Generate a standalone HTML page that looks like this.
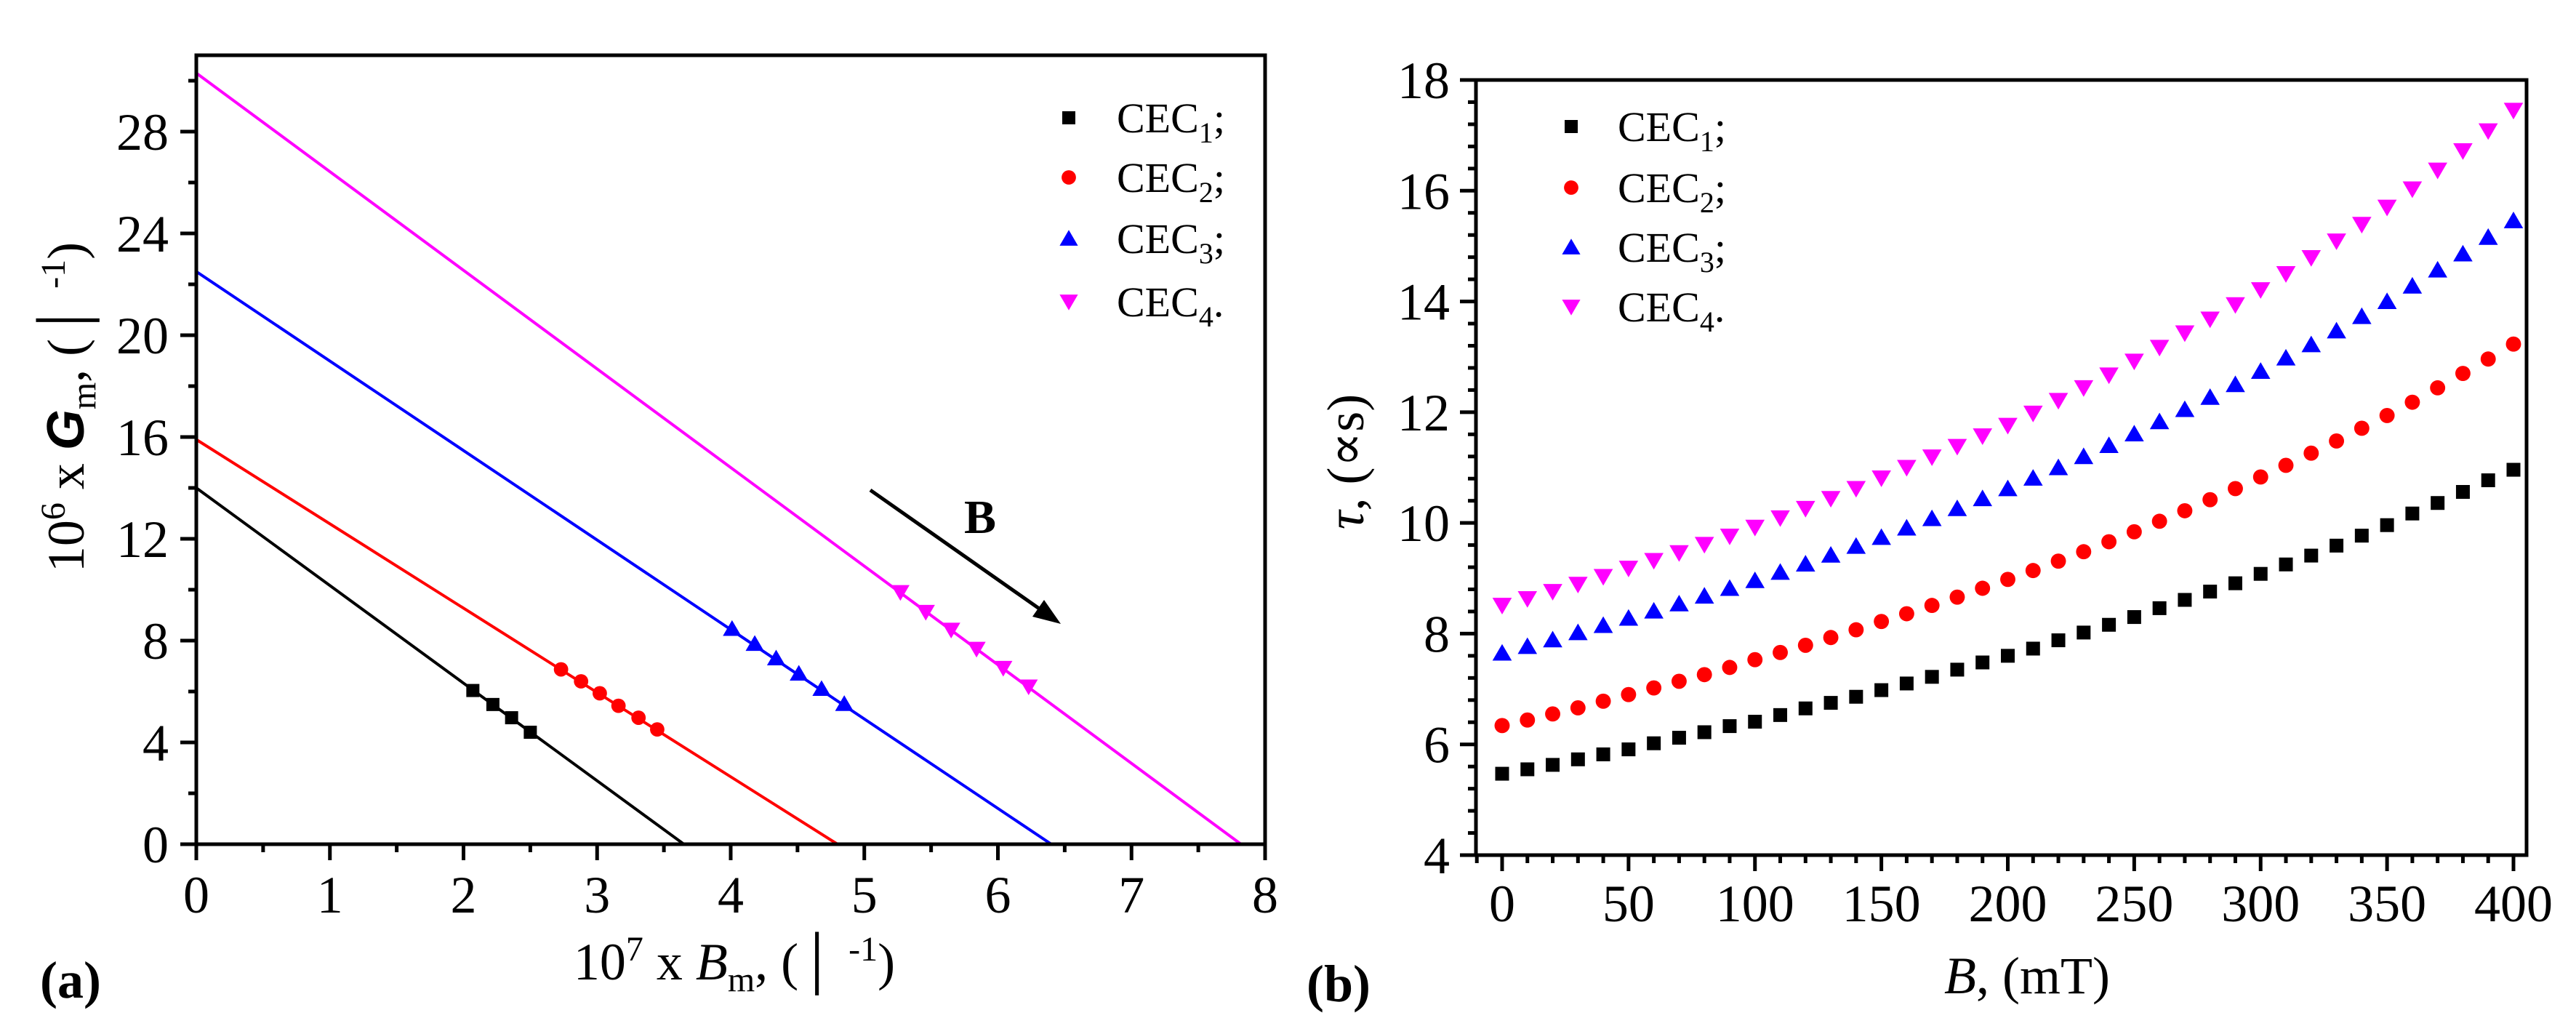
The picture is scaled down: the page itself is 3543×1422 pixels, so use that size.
<!DOCTYPE html>
<html><head><meta charset="utf-8"><style>
html,body{margin:0;padding:0;background:#fff}
svg{display:block}
text{font-family:"Liberation Serif","DejaVu Serif",serif;fill:#000}
</style></head><body>
<svg id="fig" width="3543" height="1422" viewBox="0 0 3543 1422" xmlns="http://www.w3.org/2000/svg">
<g id="pa"></g>
<g id="pb"></g>
</svg>
<script>
// Panel (a) data
const aLineIntercepts = [14.0, 15.9, 22.5, 30.3];
const aLineXZeros = [3.65, 4.80, 6.40, 7.82];
const aX1 = [2.07, 2.22, 2.36, 2.50];
const aY1 = [6.04, 5.49, 4.97, 4.40];
const aX2 = [2.73, 2.88, 3.02, 3.16, 3.31, 3.45];
const aY2 = [6.87, 6.40, 5.93, 5.44, 4.97, 4.51];
const aX3 = [4.01, 4.18, 4.34, 4.51, 4.68, 4.85];
const aY3 = [8.47, 7.88, 7.31, 6.71, 6.11, 5.52];
const aX4 = [5.27, 5.46, 5.65, 5.84, 6.04, 6.23];
const aY4 = [9.90, 9.12, 8.42, 7.67, 6.92, 6.19];
const aXTicks = [0,1,2,3,4,5,6,7,8];
const aYTicks = [0,4,8,12,16,20,24,28];
// Panel (b) data
const bField = [0,10,20,30,40,50,60,70,80,90,100,110,120,130,140,150,160,170,180,190,200,210,220,230,240,250,260,270,280,290,300,310,320,330,340,350,360,370,380,390,400];
const bCEC1 = [5.47,5.55,5.63,5.73,5.82,5.91,6.02,6.12,6.22,6.33,6.41,6.53,6.65,6.75,6.86,6.98,7.10,7.22,7.35,7.48,7.60,7.73,7.88,8.02,8.16,8.30,8.46,8.61,8.76,8.91,9.08,9.25,9.41,9.59,9.77,9.96,10.17,10.36,10.56,10.77,10.96];
const bCEC2 = [6.34,6.44,6.55,6.66,6.78,6.90,7.02,7.14,7.26,7.39,7.53,7.66,7.79,7.93,8.07,8.22,8.36,8.51,8.66,8.82,8.98,9.14,9.31,9.48,9.66,9.84,10.03,10.22,10.42,10.62,10.83,11.04,11.26,11.48,11.71,11.94,12.18,12.44,12.70,12.96,13.23];
const bCEC3 = [7.65,7.77,7.89,8.02,8.15,8.28,8.41,8.54,8.68,8.82,8.96,9.11,9.26,9.42,9.58,9.74,9.91,10.08,10.26,10.44,10.62,10.81,11.00,11.20,11.40,11.61,11.83,12.05,12.27,12.50,12.74,12.98,13.22,13.47,13.73,14.00,14.28,14.57,14.86,15.16,15.46];
const bCEC4 = [8.51,8.63,8.76,8.89,9.03,9.18,9.32,9.46,9.61,9.76,9.92,10.09,10.26,10.44,10.62,10.81,11.00,11.19,11.38,11.57,11.76,11.98,12.21,12.44,12.67,12.92,13.17,13.43,13.68,13.94,14.21,14.50,14.79,15.09,15.39,15.70,16.03,16.37,16.72,17.08,17.45];
const bXTicks = [0,50,100,150,200,250,300,350,400];
const bYTicks = [4,6,8,10,12,14,16,18];

const NS='http://www.w3.org/2000/svg';
function mk(parent,tag,attrs,txt){const e=document.createElementNS(NS,tag);for(const k in attrs)e.setAttribute(k,attrs[k]);if(txt!==undefined)e.textContent=txt;parent.appendChild(e);return e;}
const colors=['#000000','#ff0000','#0000ff','#ff00ff'];
const shapes=['square','circle','up','down'];
function marker(g,shape,cx,cy,col,s){
  let e;
  if(shape==='square'){e=mk(g,'rect',{x:cx-s*0.5,y:cy-s*0.5,width:s,height:s,fill:col});}
  else if(shape==='circle'){e=mk(g,'circle',{cx:cx,cy:cy,r:s*0.55,fill:col});}
  else if(shape==='up'){e=mk(g,'polygon',{points:`${cx-s*0.7},${cy+s*0.55} ${cx+s*0.7},${cy+s*0.55} ${cx},${cy-s*0.65}`,fill:col});}
  else {e=mk(g,'polygon',{points:`${cx-s*0.7},${cy-s*0.55} ${cx+s*0.7},${cy-s*0.55} ${cx},${cy+s*0.65}`,fill:col});}
  return e;
}

// ---- Panel A ----
const pa=document.getElementById('pa');
const aL=270,aR=1740,aT=76,aB=1161;
const ax=v=>aL+(v-0)/8*(aR-aL);
const ay=v=>aB-(v-0)/31*(aB-aT);
// lines
const aXs=[aX1,aX2,aX3,aX4], aYs=[aY1,aY2,aY3,aY4];
for(let i=0;i<4;i++){
  const l=mk(pa,'line',{x1:ax(0),y1:ay(aLineIntercepts[i]),x2:ax(aLineXZeros[i]),y2:ay(0),stroke:colors[i],'stroke-width':4});
  
  
}
for(let i=0;i<4;i++){
  const g=mk(pa,'g',{});
  
  
  for(let j=0;j<aXs[i].length;j++){
    const m=marker(g,shapes[i],ax(aXs[i][j]),ay(aYs[i][j]),colors[i],18);
    
    
  }
}
// frame
mk(pa,'rect',{x:aL,y:aT,width:aR-aL,height:aB-aT,fill:'none',stroke:'#000','stroke-width':5,});
// ticks
for(let v=0;v<=8;v+=0.5){const maj=Number.isInteger(v);mk(pa,'line',{x1:ax(v),y1:aB,x2:ax(v),y2:aB+(maj?22:11),stroke:'#000','stroke-width':5});}
for(let v=0;v<=30;v+=2){const maj=v%4===0;mk(pa,'line',{x1:aL,y1:ay(v),x2:aL-(maj?22:11),y2:ay(v),stroke:'#000','stroke-width':5});}
aXTicks.forEach(v=>{const t=mk(pa,'text',{x:ax(v),y:1255,'font-size':72,'text-anchor':'middle'},String(v));});
aYTicks.forEach(v=>{const t=mk(pa,'text',{x:232,y:ay(v)+25,'font-size':72,'text-anchor':'end'},String(v));});
// axis titles
const ayt=mk(pa,'text',{transform:'translate(115,560) rotate(-90)','font-size':72,'text-anchor':'middle',});
ayt.innerHTML='10<tspan dy="-26" font-size="48">6</tspan><tspan dy="26"> x </tspan><tspan font-family="Liberation Sans, sans-serif" font-weight="bold" font-style="italic">G</tspan><tspan dy="16" font-size="48">m</tspan><tspan dy="-16">, (│ </tspan><tspan dy="-26" font-size="48">-1</tspan><tspan dy="26">)</tspan>';
const axt=mk(pa,'text',{x:1010,y:1347,'font-size':72,'text-anchor':'middle',});
axt.innerHTML='10<tspan dy="-26" font-size="48">7</tspan><tspan dy="26"> x </tspan><tspan font-style="italic">B</tspan><tspan dy="16" font-size="48">m</tspan><tspan dy="-16">, (│ </tspan><tspan dy="-26" font-size="48">-1</tspan><tspan dy="26">)</tspan>';
mk(pa,'text',{x:55,y:1372,'font-size':72,'font-weight':'bold',},'(a)');
// arrow
mk(pa,'line',{x1:1197,y1:674,x2:1445,y2:848,stroke:'#000','stroke-width':5,});
mk(pa,'polygon',{points:'1459,858 1420,848 1436,825',fill:'#000',});
mk(pa,'text',{x:1348,y:733,'font-size':66,'font-weight':'bold','text-anchor':'middle',},'B');
// legend a
const legAY=[162,244,328,415];
for(let i=0;i<4;i++){
  const m=marker(pa,shapes[i],1470,legAY[i],colors[i],18);
  
  
  const t=mk(pa,'text',{x:1536,y:legAY[i]+20,'font-size':58});
  t.innerHTML='CEC<tspan dy="14" font-size="40">'+(i+1)+'</tspan><tspan dy="-14">'+(i<3?';':'.')+'</tspan>';
  
  
}

// ---- Panel B ----
const pb=document.getElementById('pb');
const bL=2030,bR=3475,bT=110,bB=1176;
const bx=v=>2066+v*3.4775;
const by=v=>bB-(v-4)/14*(bB-bT);
const bSeries=[bCEC1,bCEC2,bCEC3,bCEC4];
for(let i=0;i<4;i++){
  const g=mk(pb,'g',{});
  
  
  for(let j=0;j<bField.length;j++){
    const m=marker(g,shapes[i],bx(bField[j]),by(bSeries[i][j]),colors[i],19);
    
    
  }
}
mk(pb,'rect',{x:bL,y:bT,width:bR-bL,height:bB-bT,fill:'none',stroke:'#000','stroke-width':5,});
for(let v=-10;v<=400;v+=10){const maj=v%50===0;mk(pb,'line',{x1:bx(v),y1:bB,x2:bx(v),y2:bB+(maj?22:11),stroke:'#000','stroke-width':5});}
for(let k=0;k<=35;k++){const v=4+k*0.4;const maj=k%5===0;mk(pb,'line',{x1:bL,y1:by(v),x2:bL-(maj?22:11),y2:by(v),stroke:'#000','stroke-width':5});}
bXTicks.forEach(v=>{const t=mk(pb,'text',{x:bx(v),y:1267,'font-size':72,'text-anchor':'middle'},String(v));});
bYTicks.forEach(v=>{const t=mk(pb,'text',{x:1994,y:by(v)+25,'font-size':72,'text-anchor':'end'},String(v));});
const byt=mk(pb,'text',{transform:'translate(1875,635) rotate(-90)','font-size':72,'text-anchor':'middle',});
byt.innerHTML='<tspan font-style="italic">τ</tspan>, (∝s)';
const bxt=mk(pb,'text',{x:2788,y:1366,'font-size':72,'text-anchor':'middle',});
bxt.innerHTML='<tspan font-style="italic">B</tspan>, (mT)';
mk(pb,'text',{x:1797,y:1377,'font-size':72,'font-weight':'bold',},'(b)');
const legBY=[174,258,340,422];
for(let i=0;i<4;i++){
  const m=marker(pb,shapes[i],2161,legBY[i],colors[i],18);
  
  
  const t=mk(pb,'text',{x:2225,y:legBY[i]+20,'font-size':58});
  t.innerHTML='CEC<tspan dy="14" font-size="40">'+(i+1)+'</tspan><tspan dy="-14">'+(i<3?';':'.')+'</tspan>';
  
  
}
</script>
</body></html>
